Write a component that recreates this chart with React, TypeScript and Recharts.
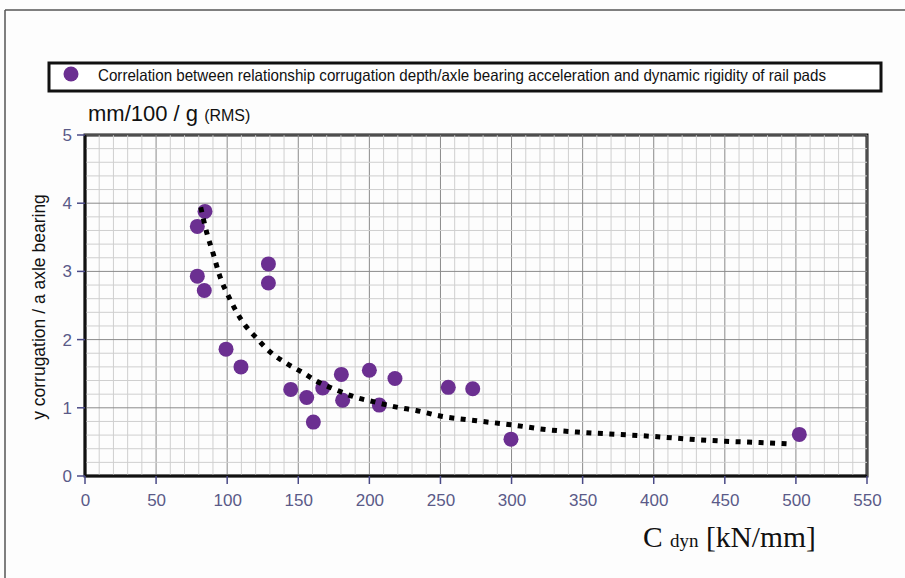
import React from 'react';
import { ScatterChart, Scatter, XAxis, YAxis, ReferenceLine, ReferenceArea } from 'recharts';

// Measured points: dynamic rigidity (kN/mm) vs corrugation/acceleration ratio
const pointX = [79, 84.4, 79, 83.9, 99.2, 109.7, 129, 129, 144.7, 155.9, 160.6, 167.2, 180.3, 181.2, 200, 207, 218, 255.5, 272.7, 299.6, 502.4];
const pointY = [3.66, 3.88, 2.93, 2.72, 1.86, 1.6, 3.11, 2.83, 1.27, 1.15, 0.79, 1.29, 1.49, 1.11, 1.55, 1.04, 1.43, 1.3, 1.28, 0.54, 0.61];

// Trend curve
const trendX = [81.4, 85.6, 90.3, 94.5, 102, 110.2, 120.7, 131.3, 141.8, 153.6, 163, 177, 191, 202.8, 219.2, 233, 249.7, 275.5, 300, 324.7, 349.3, 375, 399.7, 425.5, 450, 474.7, 495];
const trendY = [3.94, 3.57, 3.25, 2.95, 2.59, 2.28, 2.02, 1.8, 1.65, 1.51, 1.39, 1.26, 1.15, 1.09, 1.01, 0.96, 0.88, 0.81, 0.75, 0.68, 0.64, 0.61, 0.58, 0.54, 0.51, 0.49, 0.47];

const xTicks = [0, 50, 100, 150, 200, 250, 300, 350, 400, 450, 500, 550];
const yTicks = [0, 1, 2, 3, 4, 5];
const xMinor = Array.from({ length: 56 }, (_, i) => i * 10);
const yMinor = Array.from({ length: 26 }, (_, i) => Math.round(i * 2) / 10);

const legendText = 'Correlation between relationship corrugation depth/axle bearing acceleration and dynamic rigidity of rail pads';

const points = pointX.map((x, i) => ({ x, y: pointY[i] }));
const trend = trendX.map((x, i) => ({ x, y: trendY[i] }));

const PURPLE = '#6b2f91';
const TICK_COLOR = '#5a5a88';
const SANS = '"Liberation Sans", Arial, sans-serif';

const Dot = (props: any) => <circle cx={props.cx} cy={props.cy} r={7.5} fill={PURPLE} />;
const NoDot = () => <g />;

const XTick = (props: any) => {
  const { x, y, payload } = props;
  return (
    <text x={x + 0.5} y={y + 22} textAnchor="middle" fill={TICK_COLOR} style={{ fontSize: 17, fontFamily: SANS }}>
      {payload.value}
    </text>
  );
};

const YTick = (props: any) => {
  const { x, y, payload } = props;
  return (
    <text x={x - 1} y={y + 6} textAnchor="end" fill={TICK_COLOR} style={{ fontSize: 17, fontFamily: SANS }}>
      {payload.value}
    </text>
  );
};

export default function App() {
  return (
    <div style={{ position: 'absolute', left: 0, top: 0, width: 905, height: 578, background: '#fdfdfd', overflow: 'hidden' }}>
      <ScatterChart width={905} height={578} margin={{ top: 135, right: 38, left: 0, bottom: 0 }}>
        <XAxis
          type="number"
          dataKey="x"
          domain={[0, 550]}
          ticks={xTicks}
          interval={0}
          height={102}
          axisLine={{ stroke: '#111', strokeWidth: 2.5 }}
          tickLine={{ stroke: '#4a4a86', strokeWidth: 1.5 }}
          tickSize={8}
          tickMargin={0}
          tick={<XTick />}
        />
        <YAxis
          type="number"
          dataKey="y"
          domain={[0, 5]}
          ticks={yTicks}
          interval={0}
          width={85}
          axisLine={{ stroke: '#111', strokeWidth: 2.5 }}
          tickLine={{ stroke: '#4a4a86', strokeWidth: 1.5 }}
          tickSize={8}
          tickMargin={4}
          tick={<YTick />}
        />
        {xMinor.map((v) => (
          <ReferenceLine key={'xm' + v} x={v} stroke={v % 50 === 0 ? '#8a8a8a' : '#cfcfcf'} strokeWidth={1} />
        ))}
        {yMinor.map((v) => (
          <ReferenceLine key={'ym' + v} y={v} stroke={Math.abs(v - Math.round(v)) < 1e-6 ? '#8a8a8a' : '#cfcfcf'} strokeWidth={1} />
        ))}
        <ReferenceArea x1={0} x2={550} y1={0} y2={5} fill="none" stroke="#111" strokeWidth={3} />
        <Scatter data={points} shape={Dot} isAnimationActive={false} />
        <Scatter
          data={trend}
          shape={NoDot}
          line={{ stroke: '#000', strokeWidth: 5, strokeDasharray: '5 6.5', strokeLinecap: 'butt' }}
          lineJointType="monotoneX"
          isAnimationActive={false}
        />
      </ScatterChart>
      <svg width={905} height={578} style={{ position: 'absolute', left: 0, top: 0, pointerEvents: 'none' }}>
        <line x1={5} y1={10} x2={905} y2={10} stroke="#555" strokeWidth={1.5} />
        <line x1={5} y1={10} x2={5} y2={578} stroke="#555" strokeWidth={1.5} />
        <rect x={49} y={63} width={832} height={28} fill="#fff" stroke="#111" strokeWidth={3} />
        <circle cx={71} cy={74} r={7.5} fill={PURPLE} />
        <text x={98} y={81} fontSize={16.5} fontFamily={'"Liberation Sans Narrow", "Arial Narrow", ' + SANS} fill="#111" textLength={728} lengthAdjust="spacingAndGlyphs">
          {legendText}
        </text>
        <text x={88} y={121} fontSize={22} fontFamily={SANS} fill="#111">
          mm/100 / g <tspan fontSize={16}>(RMS)</tspan>
        </text>
        <text x={0} y={0} transform="translate(45,307) rotate(-90)" textAnchor="middle" fontSize={17.5} fontFamily={SANS} fill="#111">
          y corrugation / a axle bearing
        </text>
        <text x={643} y={547} fontSize={29.5} fontFamily={'"Liberation Serif", "Times New Roman", serif'} fill="#111">
          C <tspan fontSize={19}>dyn</tspan> [kN/mm]
        </text>
      </svg>
    </div>
  );
}
